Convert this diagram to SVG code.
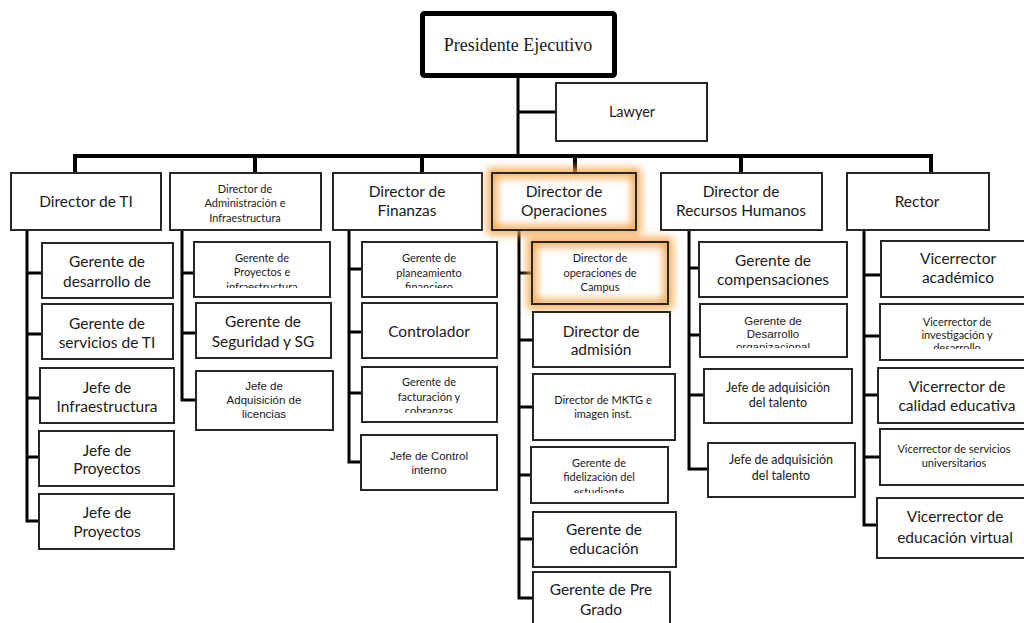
<svg xmlns="http://www.w3.org/2000/svg" width="1024" height="623" viewBox="0 0 1024 623">
  <style>
    .box { fill: #ffffff; stroke: #262626; stroke-width: 2; }
    .lnk { fill: none; stroke: #000000; stroke-width: 3; }
    .bar { fill: none; stroke: #000000; stroke-width: 4; }
    text { fill: #1a1a1a; text-anchor: middle; }
    .c16 { font-family: Lato, "Open Sans", sans-serif; font-size: 15.5px; }
    .c12 { font-family: Lato, "Open Sans", sans-serif; font-size: 12.5px; }
    .c11 { font-family: Lato, "Open Sans", sans-serif; font-size: 11px; }
    .a11 { font-family: "Liberation Sans", Arial, sans-serif; font-size: 11.5px; }
    .t16 { font-family: "Liberation Serif", "Times New Roman", serif; font-size: 18px; }
    .glow { fill: none; stroke: #f7a448; stroke-width: 9; filter: url(#blur); }
  </style>
  <defs>
    <filter id="blur" x="-25%" y="-50%" width="150%" height="200%">
      <feGaussianBlur stdDeviation="4.5"/>
    </filter>
    <clipPath id="clipAdm1"><rect x="194" y="242" width="137" height="46"/></clipPath>
    <clipPath id="clipFin1"><rect x="362" y="242" width="135" height="46"/></clipPath>
    <clipPath id="clipFin3"><rect x="362" y="367" width="135" height="46"/></clipPath>
    <clipPath id="clipOp4"><rect x="531" y="447" width="137" height="46"/></clipPath>
    <clipPath id="clipRh2"><rect x="700" y="304" width="147" height="44"/></clipPath>
    <clipPath id="clipRe2"><rect x="880" y="304" width="150" height="45"/></clipPath>
  </defs>

  <rect width="1024" height="623" fill="#ffffff"/>

  <!-- connectors -->
  <g id="connectors">
    <path class="lnk" d="M518 78 V156 M518 112 H556"/>
    <path class="bar" d="M73 156 H933"/>
    <path class="bar" d="M75 156 V173 M255 156 V173 M422 156 V173 M575 156 V173 M741 156 V173 M931 156 V173"/>
    <!-- Director de TI -->
    <path class="lnk" d="M27 230 V521 H40 M27 273 H42 M27 334 H42 M27 398 H40 M27 457 H39"/>
    <!-- Administración -->
    <path class="lnk" d="M182 230 V400 H196 M182 273 H194 M182 333 H196"/>
    <!-- Finanzas -->
    <path class="lnk" d="M349 230 V462 H361 M349 269 H362 M349 332 H362 M349 393 H362"/>
    <!-- Operaciones -->
    <path class="lnk" d="M519 230 V598 H533 M519 273 H532 M519 340 H533 M519 407 H533 M519 475 H531 M519 539 H533"/>
    <!-- Recursos Humanos -->
    <path class="lnk" d="M689 230 V469 H708 M689 268 H699 M689 335 H700 M689 395 H704"/>
    <!-- Rector -->
    <path class="lnk" d="M864 230 V525 H877 M864 275 H881 M864 336 H880 M864 395 H878 M864 457 H880"/>
  </g>

  <!-- top level -->
  <g id="presidente">
    <rect x="422.5" y="13.5" width="192" height="62" rx="2" fill="#ffffff" stroke="#000000" stroke-width="5"/>
    <text class="t16" x="518" y="51">Presidente Ejecutivo</text>
  </g>
  <g id="lawyer">
    <rect class="box" x="556" y="83" width="151" height="58" stroke="#3a3a3a" stroke-width="2.5"/>
    <text class="c16" x="632" y="117" style="font-size:14.5px">Lawyer</text>
  </g>

  <!-- directors -->
  <g id="dir-ti">
    <rect class="box" x="11" y="173" width="150" height="57"/>
    <text class="c16" x="86" y="207">Director de TI</text>
  </g>
  <g id="dir-adm">
    <rect class="box" x="170" y="173" width="151" height="57"/>
    <text class="c11" x="245" y="193">Director de</text>
    <text class="c11" x="245" y="207">Administración e</text>
    <text class="c11" x="245" y="222">Infraestructura</text>
  </g>
  <g id="dir-fin">
    <rect class="box" x="333" y="173" width="149" height="57"/>
    <text class="c16" x="407" y="197">Director de</text>
    <text class="c16" x="407" y="216">Finanzas</text>
  </g>
  <g id="dir-op">
    <rect x="492" y="173" width="144" height="57" fill="#ffffff"/>
    <rect class="glow" x="492" y="173" width="144" height="57"/>
    <rect x="492" y="173" width="144" height="57" fill="none" stroke="#262626" stroke-width="2"/>
    <text class="c16" x="564" y="197">Director de</text>
    <text class="c16" x="564" y="216">Operaciones</text>
  </g>
  <g id="dir-rh">
    <rect class="box" x="661" y="173" width="161" height="57"/>
    <text class="c16" x="741" y="197">Director de</text>
    <text class="c16" x="741" y="216">Recursos Humanos</text>
  </g>
  <g id="rector">
    <rect class="box" x="847" y="173" width="142" height="57"/>
    <text class="c16" x="917" y="207">Rector</text>
  </g>

  <!-- Director de TI reports -->
  <g id="ti-1">
    <rect class="box" x="42" y="243" width="131" height="55"/>
    <text class="c16" x="107" y="267">Gerente de</text>
    <text class="c16" x="107" y="287">desarrollo de</text>
  </g>
  <g id="ti-2">
    <rect class="box" x="42" y="304" width="131" height="55"/>
    <text class="c16" x="107" y="329">Gerente de</text>
    <text class="c16" x="107" y="348">servicios de TI</text>
  </g>
  <g id="ti-3">
    <rect class="box" x="40" y="368" width="134" height="55"/>
    <text class="c16" x="107" y="393">Jefe de</text>
    <text class="c16" x="107" y="412">Infraestructura</text>
  </g>
  <g id="ti-4">
    <rect class="box" x="39" y="431" width="135" height="55"/>
    <text class="c16" x="107" y="456">Jefe de</text>
    <text class="c16" x="107" y="474">Proyectos</text>
  </g>
  <g id="ti-5">
    <rect class="box" x="39" y="494" width="135" height="55"/>
    <text class="c16" x="107" y="518">Jefe de</text>
    <text class="c16" x="107" y="537">Proyectos</text>
  </g>

  <!-- Administración reports -->
  <g id="adm-1">
    <rect class="box" x="194" y="242" width="136" height="55"/>
    <g clip-path="url(#clipAdm1)">
      <text class="c11" x="262" y="262">Gerente de</text>
      <text class="c11" x="262" y="276">Proyectos e</text>
      <text class="c11" x="262" y="291">infraestructura</text>
    </g>
  </g>
  <g id="adm-2">
    <rect class="box" x="196" y="303" width="135" height="55"/>
    <text class="c16" x="263" y="327">Gerente de</text>
    <text class="c16" x="263" y="347">Seguridad y SG</text>
  </g>
  <g id="adm-3">
    <rect class="box" x="196" y="371" width="137" height="59"/>
    <text class="a11" x="264" y="390">Jefe de</text>
    <text class="a11" x="264" y="404">Adquisición de</text>
    <text class="a11" x="264" y="418">licencias</text>
  </g>

  <!-- Finanzas reports -->
  <g id="fin-1">
    <rect class="box" x="362" y="242" width="135" height="55"/>
    <g clip-path="url(#clipFin1)">
      <text class="c11" x="429" y="262">Gerente de</text>
      <text class="c11" x="429" y="277">planeamiento</text>
      <text class="c11" x="429" y="291">financiero</text>
    </g>
  </g>
  <g id="fin-2">
    <rect class="box" x="362" y="303" width="135" height="55"/>
    <text class="c16" x="429" y="337">Controlador</text>
  </g>
  <g id="fin-3">
    <rect class="box" x="362" y="367" width="135" height="55"/>
    <g clip-path="url(#clipFin3)">
      <text class="c11" x="429" y="386">Gerente de</text>
      <text class="c11" x="429" y="401">facturación y</text>
      <text class="c11" x="429" y="415">cobranzas</text>
    </g>
  </g>
  <g id="fin-4">
    <rect class="box" x="361" y="435" width="136" height="55"/>
    <text class="a11" x="429" y="460">Jefe de Control</text>
    <text class="a11" x="429" y="474">interno</text>
  </g>

  <!-- Operaciones reports -->
  <g id="op-1">
    <rect x="532" y="242" width="136" height="62" fill="#ffffff"/>
    <rect class="glow" x="532" y="242" width="136" height="62"/>
    <rect x="532" y="242" width="136" height="62" fill="none" stroke="#262626" stroke-width="2"/>
    <text class="c11" x="600" y="262">Director de</text>
    <text class="c11" x="600" y="277">operaciones de</text>
    <text class="c11" x="600" y="291">Campus</text>
  </g>
  <g id="op-2">
    <rect class="box" x="533" y="312" width="137" height="55"/>
    <text class="c16" x="601" y="337">Director de</text>
    <text class="c16" x="601" y="355">admisión</text>
  </g>
  <g id="op-3">
    <rect class="box" x="533" y="374" width="142" height="66"/>
    <text class="c11" x="603" y="404">Director de MKTG e</text>
    <text class="c11" x="603" y="418">imagen inst.</text>
  </g>
  <g id="op-4">
    <rect class="box" x="531" y="447" width="137" height="56"/>
    <g clip-path="url(#clipOp4)">
      <text class="c11" x="599" y="467">Gerente de</text>
      <text class="c11" x="599" y="481">fidelización del</text>
      <text class="c11" x="599" y="496">estudiante</text>
    </g>
  </g>
  <g id="op-5">
    <rect class="box" x="533" y="512" width="143" height="55"/>
    <text class="c16" x="604" y="535">Gerente de</text>
    <text class="c16" x="604" y="554">educación</text>
  </g>
  <g id="op-6">
    <rect class="box" x="533" y="572" width="137" height="60"/>
    <text class="c16" x="601" y="595">Gerente de Pre</text>
    <text class="c16" x="601" y="615">Grado</text>
  </g>

  <!-- Recursos Humanos reports -->
  <g id="rh-1">
    <rect class="box" x="699" y="242" width="148" height="55"/>
    <text class="c16" x="773" y="266">Gerente de</text>
    <text class="c16" x="773" y="285">compensaciones</text>
  </g>
  <g id="rh-2">
    <rect class="box" x="700" y="304" width="147" height="53"/>
    <g clip-path="url(#clipRh2)">
      <text class="a11" x="773" y="325">Gerente de</text>
      <text class="a11" x="773" y="338">Desarrollo</text>
      <text class="a11" x="773" y="351">organizacional</text>
    </g>
  </g>
  <g id="rh-3">
    <rect class="box" x="704" y="369" width="148" height="54"/>
    <text class="c12" x="778" y="392">Jefe de adquisición</text>
    <text class="c12" x="778" y="407">del talento</text>
  </g>
  <g id="rh-4">
    <rect class="box" x="708" y="443" width="147" height="54"/>
    <text class="c12" x="781" y="464">Jefe de adquisición</text>
    <text class="c12" x="781" y="480">del talento</text>
  </g>

  <!-- Rector reports -->
  <g id="re-1">
    <rect class="box" x="881" y="241" width="152" height="56"/>
    <text class="c16" x="958" y="264">Vicerrector</text>
    <text class="c16" x="958" y="283">académico</text>
  </g>
  <g id="re-2">
    <rect class="box" x="880" y="304" width="153" height="56"/>
    <g clip-path="url(#clipRe2)">
      <text class="c11" x="957" y="326">Vicerrector de</text>
      <text class="c11" x="957" y="339">investigación y</text>
      <text class="c11" x="957" y="352">desarrollo</text>
    </g>
  </g>
  <g id="re-3">
    <rect class="box" x="878" y="368" width="155" height="55"/>
    <text class="c16" x="957" y="392">Vicerrector de</text>
    <text class="c16" x="957" y="411">calidad educativa</text>
  </g>
  <g id="re-4">
    <rect class="box" x="880" y="429" width="153" height="56"/>
    <text class="c11" x="954" y="453">Vicerrector de servicios</text>
    <text class="c11" x="954" y="467">universitarios</text>
  </g>
  <g id="re-5">
    <rect class="box" x="877" y="498" width="156" height="60"/>
    <text class="c16" x="955" y="522">Vicerrector de</text>
    <text class="c16" x="955" y="543">educación virtual</text>
  </g>
</svg>
